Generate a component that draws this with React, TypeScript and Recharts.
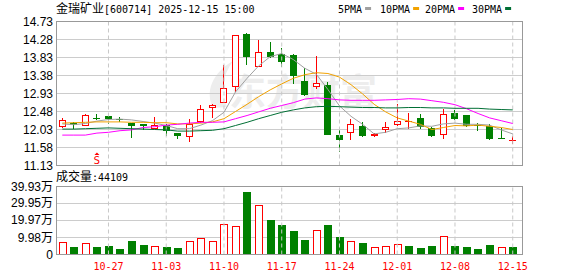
import React from 'react';
import {
  ComposedChart,
  Bar,
  Line,
  XAxis,
  YAxis,
  CartesianGrid,
  ReferenceLine,
  ReferenceDot,
} from 'recharts';

// trading days shown (MM-DD)
const dates = [
  '10-21', '10-22', '10-23', '10-24', '10-27', '10-28', '10-29', '10-30', '10-31',
  '11-03', '11-04', '11-05', '11-06', '11-07', '11-10', '11-11', '11-12', '11-13', '11-14',
  '11-17', '11-18', '11-19', '11-20', '11-21', '11-24', '11-25', '11-26', '11-27', '11-28',
  '12-01', '12-02', '12-03', '12-04', '12-05', '12-08', '12-09', '12-10', '12-11', '12-12',
  '12-15',
];
const weekStarts = ['10-27', '11-03', '11-10', '11-17', '11-24', '12-01', '12-08', '12-15'];

const opens = [
  12.10, 12.20, 12.12, 12.33, 12.36, 12.30, 12.19, 12.16, 12.055, 12.15,
  11.94, 11.84, 12.23, 12.56, 12.69, 13.09, 14.42, 13.59, 13.965, 13.91,
  13.90, 13.25, 13.09, 13.15, 11.90, 11.94, 12.12, 11.88, 12.03, 12.14,
  12.23, 12.31, 12.08, 11.905, 12.44, 12.39, 12.15, 12.12, 11.81, 11.74,
];
const closes = [
  12.27, 12.14, 12.40, 12.32, 12.29, 12.29, 12.12, 12.12, 12.145, 12.00,
  11.87, 12.17, 12.54, 12.65, 13.06, 14.39, 13.855, 13.965, 13.85, 13.73,
  13.36, 12.90, 13.19, 11.88, 11.78, 12.17, 11.88, 11.91, 12.10, 12.24,
  12.24, 12.105, 11.87, 12.43, 12.29, 12.11, 12.12, 11.79, 11.80, 11.76,
];
const highs = [
  12.33, 12.21, 12.43, 12.43, 12.37, 12.34, 12.20, 12.17, 12.355, 12.17,
  11.95, 12.29, 12.65, 12.66, 13.65, 14.40, 14.455, 14.27, 14.23, 14.06,
  13.92, 13.56, 13.87, 13.21, 12.02, 12.30, 12.21, 11.955, 12.21, 12.67,
  12.455, 12.41, 12.10, 12.555, 12.51, 12.40, 12.20, 12.17, 12.06, 11.87,
];
const lows = [
  12.06, 12.04, 12.11, 12.26, 12.17, 12.21, 11.81, 12.02, 12.05, 11.87,
  11.80, 11.73, 12.19, 12.33, 12.69, 12.98, 13.65, 13.59, 13.81, 13.60,
  13.18, 12.86, 13.04, 11.88, 11.46, 11.78, 11.84, 11.84, 11.94, 12.12,
  12.04, 12.055, 11.85, 11.79, 12.28, 12.10, 11.99, 11.77, 11.79, 11.68,
];

const ma5 = [
  12.17, 12.15, 12.18, 12.24, 12.28, 12.29, 12.27, 12.23, 12.19, 12.13,
  12.05, 12.05, 12.14, 12.25, 12.46, 12.97, 13.31, 13.62, 13.85, 13.93,
  13.78, 13.56, 13.41, 13.03, 12.62, 12.36, 12.16, 11.92, 11.96, 12.05,
  12.07, 12.12, 12.11, 12.17, 12.19, 12.16, 12.16, 12.14, 12.02, 11.92,
];
const ma10 = [
  12.19, 12.20, 12.21, 12.22, 12.22, 12.22, 12.21, 12.21, 12.20, 12.20,
  12.17, 12.17, 12.19, 12.22, 12.30, 12.48, 12.66, 12.85, 13.02, 13.17,
  13.31, 13.40, 13.45, 13.43, 13.34, 13.15, 12.92, 12.66, 12.47, 12.32,
  12.24, 12.16, 12.03, 12.08, 12.13, 12.12, 12.14, 12.11, 12.08, 12.03,
];
const ma20 = [
  11.89, 11.89, 11.89, 11.94, 11.96, 12.00, 12.02, 12.08, 12.10, 12.14,
  12.16, 12.19, 12.21, 12.21, 12.22, 12.30, 12.38, 12.47, 12.56, 12.63,
  12.70, 12.79, 12.82, 12.80, 12.77, 12.76, 12.76, 12.76, 12.77, 12.78,
  12.80, 12.79, 12.75, 12.71, 12.65, 12.55, 12.43, 12.32, 12.25, 12.18,
];
const ma30 = [
  12.04, 12.04, 12.05, 12.06, 12.07, 12.06, 12.05, 12.04, 12.03, 12.02,
  11.99, 11.99, 12.00, 12.01, 12.05, 12.13, 12.21, 12.30, 12.38, 12.46,
  12.52, 12.57, 12.60, 12.61, 12.60, 12.59, 12.58, 12.58, 12.57, 12.57,
  12.58, 12.58, 12.57, 12.57, 12.56, 12.56, 12.56, 12.54, 12.53, 12.52,
];

// volume in 万手
const volumes = [
  7.2, 4.6, 6.65, 4.6, 5.1, 3.4, 8.0, 5.7, 4.9, 4.6,
  4.0, 7.8, 9.5, 8.0, 18.1, 16.9, 36.5, 29.1, 20.0, 17.1,
  13.7, 8.6, 14.1, 17.1, 10.3, 7.8, 6.8, 4.4, 4.9, 6.1,
  5.1, 4.0, 5.1, 10.6, 5.1, 4.6, 3.4, 5.7, 4.4, 4.4109,
];
const volUp = [
  true, false, true, false, false, false, false, false, true, false,
  false, true, true, true, true, true, false, true, false, false,
  false, false, true, false, false, true, false, true, true, true,
  false, false, false, true, false, false, false, false, true, false,
];
const lastVolume = 44109;

const priceTicks = [11.13, 11.58, 12.03, 12.48, 12.93, 13.38, 13.83, 14.28, 14.73];
const volTicks = [0, 9.98, 19.97, 29.95, 39.93];

const maNames = ['5PMA', '10PMA', '20PMA', '30PMA'];
const maKeys = ['ma5', 'ma10', 'ma20', 'ma30'];
const maColors = ['#a0a0a0', '#f2a200', '#ff00ff', '#006f35'];

const signals = [{ date: '10-24', price: 11.27, label: 'S' }];

const stockName = '金瑞矿业';
const stockCode = '600714';
const stamp = '2025-12-15 15:00';

const RED = '#ff0000';
const GREEN = '#008000';
const CJK = "'Noto Sans CJK SC', sans-serif";
const MONO = "'DejaVu Sans Mono', monospace";
const SANS = "'Liberation Sans', Arial, sans-serif";

const W = 578;
const H = 276;
const LEFT = 56.5;
const RIGHT = 522.5;
const P_TOP = 21.5;
const P_BOTTOM = 165.5;
const V_TOP = 186.5;
const V_BOTTOM = 254.5;

const rows = dates.map((date, i) => ({
  date,
  open: opens[i],
  close: closes[i],
  high: highs[i],
  low: lows[i],
  range: [lows[i], highs[i]],
  ma5: ma5[i],
  ma10: ma10[i],
  ma20: ma20[i],
  ma30: ma30[i],
  vol: volumes[i],
  volUp: volUp[i],
}));

function Candle(props: any) {
  const { x, y, width, height, payload } = props;
  if (!payload) return null;
  const { open, close, high, low } = payload;
  const color = close >= open ? RED : GREEN;
  const top0 = Math.min(y, y + height);
  const k = Math.abs(height) / (high - low);
  const py = (v: number) => Math.round(top0 + (high - v) * k);
  const col = Math.round(x + width / 2 - 0.5);
  const cx = col + 0.5;
  const bTop = py(Math.max(open, close));
  const bBot = py(Math.min(open, close));
  const bodyH = bBot - bTop;
  if (bodyH < 2) {
    return (
      <g>
        <line x1={cx} x2={cx} y1={py(high)} y2={py(low)} stroke={color} />
        <rect x={col - 3} y={bTop} width={7} height={Math.max(bodyH, 1)} fill={color} />
      </g>
    );
  }
  if (close >= open) {
    return (
      <g>
        <line x1={cx} x2={cx} y1={py(high)} y2={bTop} stroke={color} />
        <line x1={cx} x2={cx} y1={bBot} y2={py(low)} stroke={color} />
        <rect x={col - 2.5} y={bTop + 0.5} width={6} height={bodyH - 1} fill="#fff" stroke={color} />
      </g>
    );
  }
  return (
    <g>
      <line x1={cx} x2={cx} y1={py(high)} y2={py(low)} stroke={color} />
      <rect x={col - 3} y={bTop} width={7} height={bodyH} fill={color} />
    </g>
  );
}

function VolBar(props: any) {
  const { x, y, width, height, payload } = props;
  if (!payload) return null;
  const col = Math.round(x + width / 2 - 0.5);
  const top = Math.round(y);
  const bot = Math.round(y + height);
  if (payload.volUp) {
    return (
      <rect x={col - 2.5} y={top + 0.5} width={7} height={Math.max(bot - top - 1, 0)} fill="#fff" stroke={RED} />
    );
  }
  return <rect x={col - 3} y={top} width={8} height={bot - top} fill={GREEN} />;
}

const PriceTick = (props: any) => (
  <text x={53} y={props.y + 4} textAnchor="end" fontFamily={SANS} fontSize={12} fill="#000">
    {Number(props.payload.value).toFixed(2)}
  </text>
);

const VolTick = (props: any) => {
  const v = Number(props.payload.value);
  return (
    <text x={53} y={props.y + 4} textAnchor="end" fontFamily={SANS} fontSize={12} fill="#000">
      {v === 0 ? '0' : v.toFixed(2)}
      {v !== 0 && <tspan fontFamily={CJK}>万</tspan>}
    </text>
  );
};

const DateTick = (props: any) => {
  const value = props.payload.value;
  if (!weekStarts.includes(value)) return null;
  return (
    <text x={props.x} y={V_BOTTOM + 15.5} textAnchor="middle" fontFamily={MONO} fontSize={10} fill={RED}>
      {value}
    </text>
  );
};

const SignalMark = (props: any) => {
  const { cx, cy, label } = props;
  return (
    <g>
      <polygon points={`${cx},${cy - 7.5} ${cx - 2.5},${cy - 5} ${cx + 2.5},${cy - 5}`} fill={RED} />
      <text x={cx} y={cy + 4.5} textAnchor="middle" fontFamily={MONO} fontSize={11} fill={RED}>
        {label}
      </text>
    </g>
  );
};

export default function App() {
  const legendX = [338, 380, 425, 472];
  return (
    <div style={{ position: 'absolute', left: 0, top: 0, width: W, height: H, background: '#fff' }}>
      <svg width={W} height={H} style={{ position: 'absolute', left: 0, top: 0 }}>
        <path d="M213,108 C205,92 212,73 233,61 C222,76 220,92 227,107 Z" fill="#ededed" />
        <text x={229} y={106} fontFamily={CJK} fontSize={37} fontWeight={700} fill="#ededed">
          东方财富
        </text>
      </svg>

      <div style={{ position: 'absolute', left: 0, top: 0 }}>
        <ComposedChart
          width={W}
          height={H}
          data={rows}
          margin={{ top: P_TOP, right: W - RIGHT, bottom: H - P_BOTTOM, left: 0.5 }}
        >
          <CartesianGrid vertical={false} stroke="#cccccc" />
          <XAxis dataKey="date" hide padding={{ left: 0, right: 4 }} />
          <YAxis
            type="number"
            domain={[priceTicks[0], priceTicks[priceTicks.length - 1]]}
            ticks={priceTicks}
            interval={0}
            allowDataOverflow
            axisLine={false}
            tickLine={false}
            width={56}
            tick={PriceTick}
          />
          {weekStarts.map((d) => (
            <ReferenceLine key={d} x={d} stroke="#c8c8c8" strokeDasharray="4 3" />
          ))}
          <Bar dataKey="range" shape={(p: any) => <Candle {...p} />} isAnimationActive={false} />
          {maKeys.map((k, i) => (
            <Line
              key={k}
              type="linear"
              dataKey={k}
              stroke={maColors[i]}
              strokeWidth={1}
              dot={false}
              activeDot={false}
              isAnimationActive={false}
            />
          ))}
          {signals.map((s) => (
            <ReferenceDot
              key={s.date}
              x={s.date}
              y={s.price}
              r={0}
              shape={(p: any) => <SignalMark {...p} label={s.label} />}
            />
          ))}
        </ComposedChart>
      </div>

      <div style={{ position: 'absolute', left: 0, top: 0 }}>
        <ComposedChart
          width={W}
          height={H}
          data={rows}
          margin={{ top: V_TOP, right: W - RIGHT, bottom: 0, left: 0.5 }}
        >
          <CartesianGrid vertical={false} stroke="#cccccc" />
          <XAxis
            dataKey="date"
            interval={0}
            height={H - V_BOTTOM}
            padding={{ left: 0, right: 4 }}
            axisLine={false}
            tickLine={false}
            tick={DateTick}
          />
          <YAxis
            type="number"
            domain={[volTicks[0], volTicks[volTicks.length - 1]]}
            ticks={volTicks}
            interval={0}
            allowDataOverflow
            axisLine={false}
            tickLine={false}
            width={56}
            tick={VolTick}
          />
          {weekStarts.map((d) => (
            <ReferenceLine key={d} x={d} stroke="#c8c8c8" strokeDasharray="4 3" />
          ))}
          <Bar dataKey="vol" shape={(p: any) => <VolBar {...p} />} isAnimationActive={false} />
        </ComposedChart>
      </div>

      <svg width={W} height={H} style={{ position: 'absolute', left: 0, top: 0, pointerEvents: 'none' }}>
        <rect x={LEFT} y={P_TOP} width={RIGHT - LEFT} height={P_BOTTOM - P_TOP} fill="none" stroke="#999" />
        <rect x={LEFT} y={V_TOP} width={RIGHT - LEFT} height={V_BOTTOM - V_TOP} fill="none" stroke="#999" />
        <text x={56} y={13} fill="#000">
          <tspan fontFamily={CJK} fontSize={12}>{stockName}</tspan>
          <tspan fontFamily={MONO} fontSize={10}>{`[${stockCode}] ${stamp}`}</tspan>
        </text>
        {maNames.map((name, i) => (
          <g key={name}>
            <text x={legendX[i]} y={13} fontFamily={MONO} fontSize={10} fill="#000">
              {name}
            </text>
            <rect x={legendX[i] + name.length * 6.02 + 3} y={7} width={6} height={3} fill={maColors[i]} />
          </g>
        ))}
        <text x={56} y={181} fill="#000">
          <tspan fontFamily={CJK} fontSize={12}>成交量</tspan>
          <tspan fontFamily={MONO} fontSize={10}>{`:${lastVolume}`}</tspan>
        </text>
      </svg>
    </div>
  );
}
